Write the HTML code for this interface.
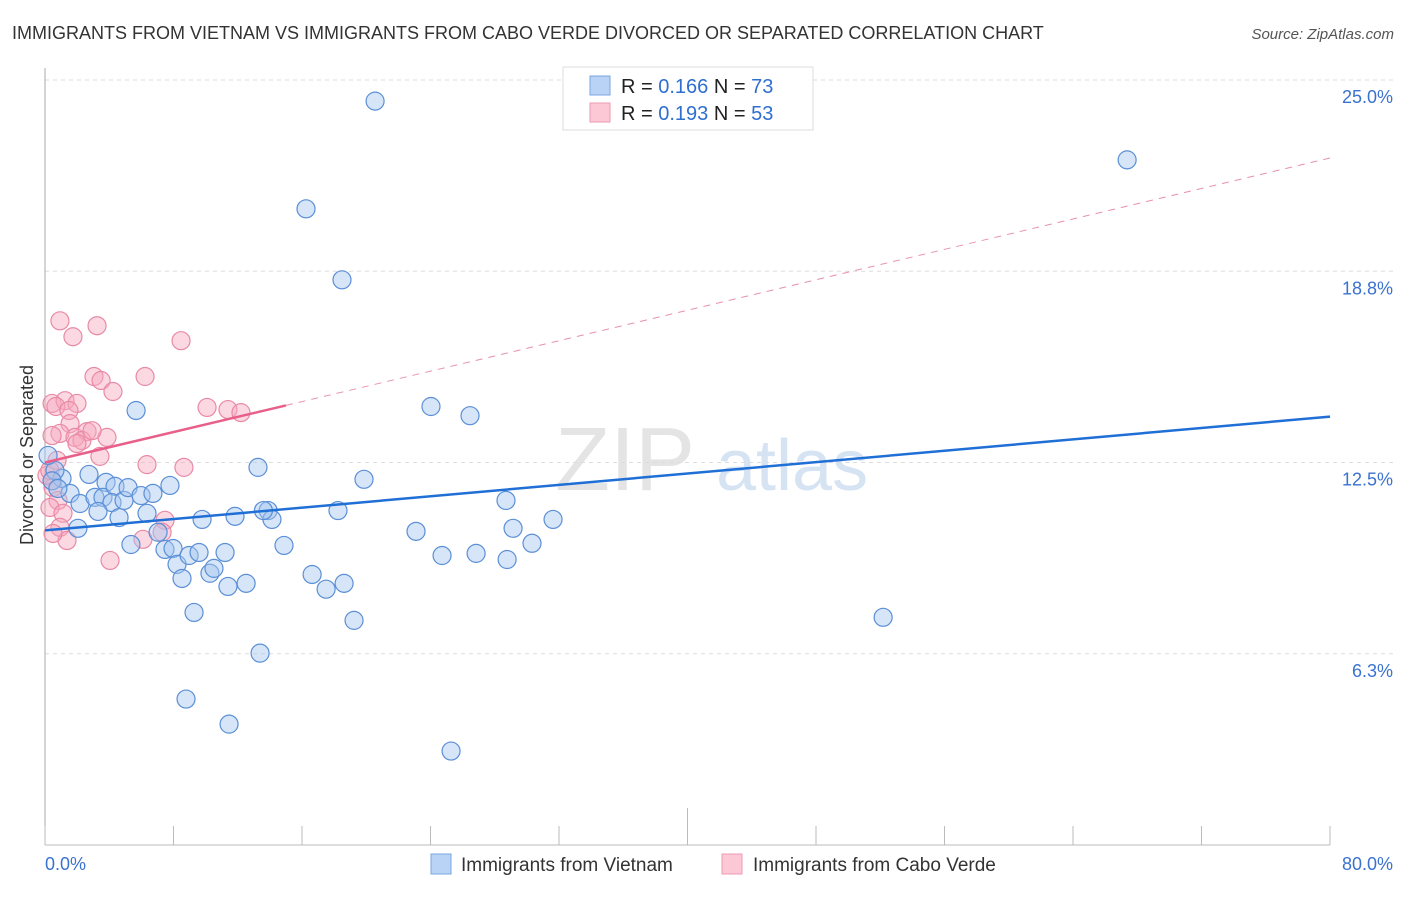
<!DOCTYPE html>
<html><head><meta charset="utf-8"><style>
body{margin:0;background:#fff;font-family:"Liberation Sans",sans-serif;}
svg text{font-family:"Liberation Sans",sans-serif;}
</style></head><body>
<svg id="chart" width="1406" height="892" xmlns="http://www.w3.org/2000/svg">
<text x="12" y="39" font-size="18" fill="#333">IMMIGRANTS FROM VIETNAM VS IMMIGRANTS FROM CABO VERDE DIVORCED OR SEPARATED CORRELATION CHART</text>
<text x="1394" y="39" font-size="15" fill="#555" text-anchor="end" font-style="italic">Source: ZipAtlas.com</text>
<text x="555" y="490" font-size="90" fill="#e4e4e4" font-family="Liberation Serif">ZIP</text>
<text x="716" y="490" font-size="72" fill="#d6e3f3">atlas</text>
<text transform="translate(33,455) rotate(-90)" font-size="18" fill="#333" text-anchor="middle">Divorced or Separated</text>
<g id="grid"></g><g id="axes"></g><g id="trends"></g><g id="pts"></g>
<g>
<rect x="563" y="67" width="250" height="63" fill="#fff" stroke="#ddd"/>
<rect x="590" y="76" width="20" height="19" fill="#b8d3f5" stroke="#7aa6e0"/>
<rect x="590" y="103" width="20" height="19" fill="#fcc8d6" stroke="#ee9ab2"/>
<text x="621" y="93" font-size="20" fill="#222">R = <tspan fill="#2f6fd0">0.166</tspan>   N = <tspan fill="#2f6fd0">73</tspan></text>
<text x="621" y="120" font-size="20" fill="#222">R = <tspan fill="#2f6fd0">0.193</tspan>   N = <tspan fill="#2f6fd0">53</tspan></text>
</g>
<g>
<rect x="431" y="854" width="20" height="20" fill="#b8d3f5" stroke="#7aa6e0"/>
<text x="461" y="871" font-size="19" fill="#333">Immigrants from Vietnam</text>
<rect x="722" y="854" width="20" height="20" fill="#fcc8d6" stroke="#ee9ab2"/>
<text x="753" y="871" font-size="19" fill="#333">Immigrants from Cabo Verde</text>
</g>
</svg>
<script>
const yTicks=[25.0,18.75,12.5,6.25];
const yTickLabels=["25.0%","18.8%","12.5%","6.3%"];
const xTickVals=[0,8,16,24,32,40,48,56,64,72,80];
const xEndLabels=["0.0%","80.0%"];
const vietX=[20.55,67.37,16.25,18.49,5.67,24.03,26.46,13.26,19.86,2.74,1.06,0.62,1.56,2.18,3.11,3.80,3.61,4.36,4.17,4.92,5.17,5.98,6.72,7.78,3.30,4.61,6.35,2.05,5.35,7.04,7.47,7.97,8.22,8.97,9.59,9.78,8.53,10.27,10.52,11.21,11.39,11.83,12.52,13.89,14.13,14.88,16.63,17.50,18.24,18.62,19.24,23.10,24.72,26.84,28.70,29.14,28.77,30.32,31.63,9.28,13.39,8.78,11.46,25.28,52.18,0.19,0.44,0.8,13.6];
const vietY=[24.31,22.39,20.79,18.47,14.20,14.33,14.03,12.34,11.95,12.11,11.98,12.24,11.49,11.16,11.36,11.85,11.36,11.72,11.19,11.26,11.68,11.42,11.49,11.75,10.90,10.70,10.84,10.35,9.82,10.22,9.66,9.69,9.17,9.46,9.56,10.64,8.71,8.88,9.04,9.56,8.45,10.74,8.55,10.93,10.64,9.79,8.84,8.36,10.93,8.55,7.34,10.25,9.46,9.53,11.26,10.35,9.33,9.86,10.64,7.60,6.27,4.77,3.95,3.07,7.44,12.73,11.9,11.65,10.93];
const caboX=[0.93,3.24,1.74,8.47,3.05,3.49,6.23,4.23,0.44,1.25,1.99,0.68,1.49,10.09,11.39,12.20,1.56,0.93,0.44,1.87,2.62,2.30,1.99,3.86,2.93,3.42,0.75,6.35,8.65,0.44,0.50,0.81,0.31,1.12,0.93,1.37,0.50,7.47,7.29,6.10,4.05,0.12,0.3];
const caboY=[17.13,16.97,16.61,16.48,15.31,15.18,15.31,14.82,14.43,14.52,14.43,14.33,14.20,14.30,14.23,14.13,13.77,13.45,13.38,13.32,13.51,13.22,13.12,13.32,13.54,12.70,12.57,12.43,12.34,11.91,11.68,11.26,11.03,10.84,10.38,9.95,10.18,10.61,10.22,9.99,9.30,12.08,12.24];
const vietTrend=[10.28,14.0];
const caboTrend=[12.5,22.45];
const caboSolidEnd=15;
const NS="http://www.w3.org/2000/svg";
const X=v=>45+v*(1285/80);
const Y=v=>845-v*(765/25);
function mk(tag,attrs,parent){const e=document.createElementNS(NS,tag);for(const k in attrs)e.setAttribute(k,attrs[k]);parent.appendChild(e);return e;}
const grid=document.getElementById('grid'),axes=document.getElementById('axes'),trends=document.getElementById('trends'),pts=document.getElementById('pts');
yTicks.forEach((t,i)=>{
 const l=mk('line',{x1:45,x2:1394,y1:Y(t),y2:Y(t),stroke:'#ddd','stroke-dasharray':'4,4'},grid);
 
 
 const tx=mk('text',{x:1393,y:Y(t)+23,'font-size':18,fill:'#3a72d0','text-anchor':'end'},grid);
 tx.textContent=yTickLabels[i];
 
 
});
const ya=mk('line',{x1:45,x2:45,y1:68,y2:845,stroke:'#aaa'},axes);


const xa=mk('line',{x1:45,x2:1330,y1:845,y2:845,stroke:'#bbb'},axes);


xTickVals.forEach(v=>{
 const t=mk('line',{x1:X(v),x2:X(v),y1:v===40?808:826,y2:845,stroke:'#bbb'},axes);
 
 
});
const xl0=mk('text',{x:45,y:870,'font-size':18,fill:'#3a72d0'},axes);xl0.textContent=xEndLabels[0];


const xl1=mk('text',{x:1393,y:870,'font-size':18,fill:'#3a72d0','text-anchor':'end'},axes);xl1.textContent=xEndLabels[1];


function drawPts(xs,ys,fill,stroke,name){xs.forEach((x,i)=>{
 const c=mk('circle',{cx:X(x),cy:Y(ys[i]),r:9,fill:fill,'fill-opacity':0.45,stroke:stroke,'stroke-width':1.2},pts);
 
 
});}
drawPts(caboX,caboY,'#f7a9bf','#e88aa5','point-cabo-verde');
drawPts(vietX,vietY,'#a4c5f0','#5b8fd6','point-vietnam');
const cy=v=>caboTrend[0]+(caboTrend[1]-caboTrend[0])*v/80;
const pd=mk('line',{x1:X(caboSolidEnd),y1:Y(cy(caboSolidEnd)),x2:X(80),y2:Y(caboTrend[1]),stroke:'#e891ab','stroke-width':1,'stroke-dasharray':'7,6'},trends);


const ps=mk('line',{x1:X(0),y1:Y(caboTrend[0]),x2:X(caboSolidEnd),y2:Y(cy(caboSolidEnd)),stroke:'#e8608a','stroke-width':2.5},pts);


const bl=mk('line',{x1:X(0),y1:Y(vietTrend[0]),x2:X(80),y2:Y(vietTrend[1]),stroke:'#1f6fd6','stroke-width':2.5},pts);


</script>
</body></html>
